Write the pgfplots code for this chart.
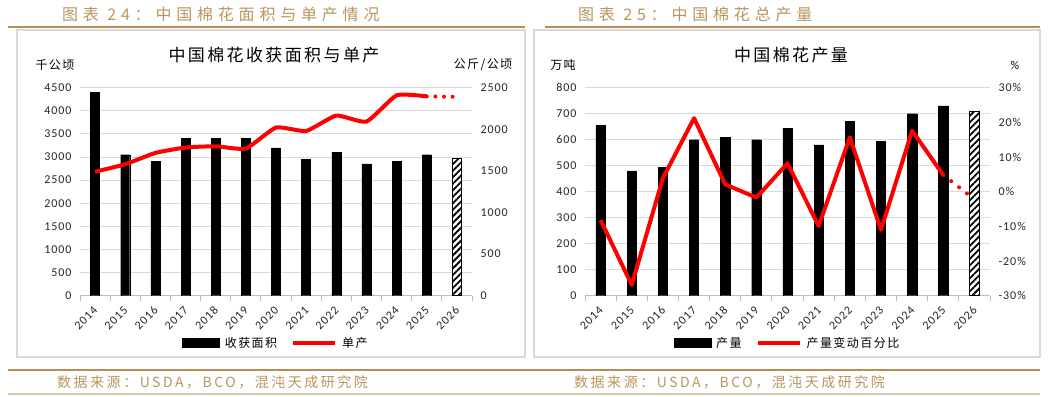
\documentclass[border=0pt]{standalone}
\usepackage{fontspec}
\setmainfont{Carlito}
\newfontfamily\cjk[LetterSpace=12]{Noto Sans CJK SC}
\newfontfamily\cjktitle[LetterSpace=14]{Noto Sans CJK SC}
\newfontfamily\cjkhead[LetterSpace=30]{Noto Sans CJK SC}
\newfontfamily\cjkfoot[LetterSpace=18]{Noto Sans CJK SC}
\newfontfamily\tickfont[LetterSpace=8]{Carlito}
\usepackage{pgfplots}
\pgfplotsset{compat=1.18}
\usetikzlibrary{patterns.meta}
\definecolor{gold}{HTML}{B8965E}
\definecolor{goldrule}{HTML}{B48E52}
\definecolor{goldlight}{HTML}{D8C8A6}
\definecolor{gridc}{HTML}{D9D9D9}
\definecolor{boxc}{HTML}{D9D9D9}
\definecolor{axc}{HTML}{BFBFBF}
\pgfplotsset{
  base/.style={
    scale only axis, anchor=south west,
    height=208pt,
    xmin=-0.5, xmax=12.5,
    tick label style={font=\tickfont\fontsize{12}{12}\selectfont, text=black!85},
    /pgf/number format/assume math mode=true,
    /pgf/number format/1000 sep={},
    major tick length=0pt,
  },
  mainax/.style={
    base,
    axis y line*=left, axis x line*=bottom,
    y axis line style={draw=none},
    x axis line style={draw=axc, line width=1pt, -},
    ymajorgrids, grid style={gridc, line width=0.9pt},
    xtick={0,...,12},
    xticklabels={2014,2015,2016,2017,2018,2019,2020,2021,2022,2023,2024,2025,2026},
    minor xtick={-0.5,0.5,...,12.5},
    minor tick length=5pt, tick align=outside,
    minor x tick style={draw=axc, line width=1pt},
    xticklabel style={yshift=-11pt, xshift=2pt, rotate=45, anchor=east, inner sep=2pt},
    yticklabel style={xshift=-5pt},
  },
  secax/.style={
    base,
    axis y line*=right, axis x line=none,
    y axis line style={draw=none},
    yticklabel style={xshift=5pt},
    legend style={draw=none, fill=none, legend columns=-1, at={(0.5,-0.227)}, anchor=center,
      font=\cjk\fontsize{12}{12}\selectfont,
      /tikz/every odd column/.append style={column sep=3pt},
      /tikz/every even column/.append style={column sep=12pt}},
  },
  barleg/.style={legend image code/.code={\fill[black] (0pt,-4.5pt) rectangle (37pt,4.5pt);}},
  lineleg/.style={legend image code/.code={\draw[red, line width=4pt] (0pt,0pt) -- (42pt,0pt);}},
}
\begin{document}
\begin{tikzpicture}
\useasboundingbox (0pt,0pt) rectangle (1048pt,396pt);
\fill[white] (0pt,0pt) rectangle (1048pt,396pt);
% headers
\node[anchor=west, text=gold, font=\cjkhead\fontsize{16}{16}\selectfont, inner sep=0pt] at (62pt,381.5pt) {图表 24：中国棉花面积与单产情况};
\node[anchor=west, text=gold, font=\cjkhead\fontsize{16}{16}\selectfont, inner sep=0pt] at (578pt,381.5pt) {图表 25：中国棉花总产量};
\draw[goldrule, line width=1.2pt] (8pt,369pt) -- (525pt,369pt);
\draw[goldrule, line width=1.2pt] (545pt,369pt) -- (1040pt,369pt);
% boxes
\draw[boxc, line width=1.3pt] (17pt,39pt) rectangle (525pt,366pt);
\draw[boxc, line width=1.3pt] (534pt,39pt) rectangle (1040pt,366pt);
% footers
\draw[goldrule, line width=1.2pt] (8pt,26pt) -- (1040pt,26pt);
\draw[goldlight, line width=1.6pt] (8pt,2pt) -- (1040pt,2pt);
\node[anchor=west, text=gold, font=\cjkfoot\fontsize{14}{14}\selectfont, inner sep=0pt] at (57pt,14pt) {数据来源：USDA，BCO，混沌天成研究院};
\node[anchor=west, text=gold, font=\cjkfoot\fontsize{14}{14}\selectfont, inner sep=0pt] at (574pt,14pt) {数据来源：USDA，BCO，混沌天成研究院};
% titles and units
\node[font=\cjktitle\fontsize{17}{17}\selectfont] at (274pt,341pt) {中国棉花收获面积与单产};
\node[font=\cjktitle\fontsize{17}{17}\selectfont] at (791pt,341pt) {中国棉花产量};
\node[font=\cjk\fontsize{12}{12}\selectfont] at (55pt,331pt) {千公顷};
\node[font=\cjk\fontsize{12}{12}\selectfont] at (483pt,331pt) {公斤/公顷};
\node[font=\cjk\fontsize{12}{12}\selectfont] at (563pt,331pt) {万吨};
\node[font=\tickfont\fontsize{12}{12}\selectfont] at (1015pt,331pt) {\%};

% ---------- left chart ----------
\begin{axis}[mainax, at={(80pt,100.3pt)}, width=392pt, ymin=0, ymax=4500, ytick={0,500,...,4500}]
\addplot[ybar, bar width=9pt, bar shift=0pt, fill=black, draw=black] coordinates {
(0,4400)(1,3050)(2,2900)(3,3400)(4,3400)(5,3400)(6,3200)(7,2950)(8,3100)(9,2850)(10,2900)(11,3050)};
\addplot[ybar, bar width=9pt, bar shift=0pt, fill=white, draw=black, line width=1pt,
  postaction={pattern={Lines[angle=45,distance=4.6pt,line width=1.8pt]}}] coordinates {(12,2970)};
\end{axis}
\begin{axis}[secax, at={(80pt,100.3pt)}, width=392pt, ymin=0, ymax=2500, ytick={0,500,...,2500}]
\addlegendimage{barleg}
\addlegendentry{收获面积}
\addplot[red, line width=4pt, smooth, tension=0.3, line join=round, forget plot] coordinates {
(0,1490)(1,1580)(2,1716)(3,1781)(4,1796)(5,1769)(6,2021)(7,1980)(8,2165)(9,2093)(10,2408)(11,2396)};
\addplot[red, line width=4pt, line cap=round, dash pattern=on 0pt off 8.6pt, forget plot] coordinates {(11,2396)(12,2390)};
\addlegendimage{lineleg}
\addlegendentry{单产}
\end{axis}

% ---------- right chart ----------
\begin{axis}[mainax, at={(585pt,100.3pt)}, width=405pt, ymin=0, ymax=800, ytick={0,100,...,800}]
\addplot[ybar, bar width=9.3pt, bar shift=0pt, fill=black, draw=black] coordinates {
(0,655)(1,480)(2,495)(3,600)(4,610)(5,600)(6,645)(7,580)(8,670)(9,595)(10,700)(11,730)};
\addplot[ybar, bar width=9.3pt, bar shift=0pt, fill=white, draw=black, line width=1pt,
  postaction={pattern={Lines[angle=45,distance=4.6pt,line width=1.8pt]}}] coordinates {(12,710)};
\end{axis}
\begin{axis}[secax, at={(585pt,100.3pt)}, width=405pt, ymin=-30, ymax=30, ytick={-30,-20,...,30},
  yticklabels={-30\%,-20\%,-10\%,0\%,10\%,20\%,30\%}]
\addlegendimage{barleg}
\addlegendentry{产量}
\addplot[red, line width=4pt, line join=round, forget plot] coordinates {
(0,-8.2)(1,-26.9)(2,3.9)(3,21.2)(4,2.1)(5,-1.7)(6,8.2)(7,-9.9)(8,15.7)(9,-11.0)(10,17.6)(11,4.8)};
\addplot[red, line width=4pt, line cap=round, dash pattern=on 0pt off 10pt, forget plot] coordinates {(11,4.8)(12,-2.2)};
\addlegendimage{lineleg}
\addlegendentry{产量变动百分比}
\end{axis}
\end{tikzpicture}
\end{document}
